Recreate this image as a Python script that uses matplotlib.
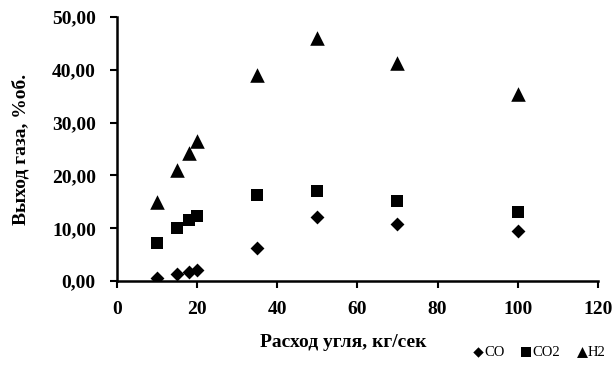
import numpy as np
import matplotlib.pyplot as plt

plt.rcParams['font.family'] = ['Liberation Serif', 'DejaVu Serif']

# === Data ===
rashod = [10, 15, 18, 20, 35, 50, 70, 100]
co  = [0.5, 1.3, 1.8, 2.1, 6.3, 12.2, 10.9, 9.5]
co2 = [7.2, 10.0, 11.5, 12.3, 16.3, 17.0, 15.2, 13.1]
h2  = [15.0, 21.0, 24.3, 26.5, 39.0, 46.0, 41.3, 35.5]

fig = plt.figure(figsize=(6.14, 3.67), dpi=100)
ax = fig.add_axes([0.19, 0.234, 0.784, 0.72])

ax.scatter(rashod, co,  marker='D', s=50, color='black', label='CO', linewidths=0)
ax.scatter(rashod, co2, marker='s', s=85, color='black', label='CO2', linewidths=0)
ax.scatter(rashod, h2,  marker='^', s=110, color='black', label='H2', linewidths=0)

ax.set_xlim(0, 120)
ax.set_ylim(0, 50)
ax.set_xticks(np.arange(0, 121, 20))
ax.set_yticks(np.arange(0, 51, 10))
ax.set_yticklabels([f"{v:.2f}".replace('.', ',') for v in np.arange(0, 51, 10)])

for s in ['top', 'right']:
    ax.spines[s].set_visible(False)
for s in ['left', 'bottom']:
    ax.spines[s].set_linewidth(1.8)
ax.tick_params(width=1.5, length=5, labelsize=14, direction='out')
ax.tick_params(axis='y', pad=10)
ax.tick_params(axis='x', pad=9)
for lbl in ax.get_xticklabels() + ax.get_yticklabels():
    lbl.set_fontweight('bold')

ax.set_xlabel("Расход угля, кг/сек", fontsize=14, fontweight='bold', labelpad=14)
ax.xaxis.set_label_coords(0.47, -0.2)
ax.set_ylabel("Выход газа, %об.", fontsize=14, fontweight='bold', labelpad=16)

fig.legend(loc='lower right', bbox_to_anchor=(1.005, -0.01), ncol=3, frameon=False,
           fontsize=10.5, handletextpad=-0.2, handlelength=1.2,
           columnspacing=0.9, markerscale=0.75, borderpad=0.3)

fig.savefig("out.png", dpi=100)
